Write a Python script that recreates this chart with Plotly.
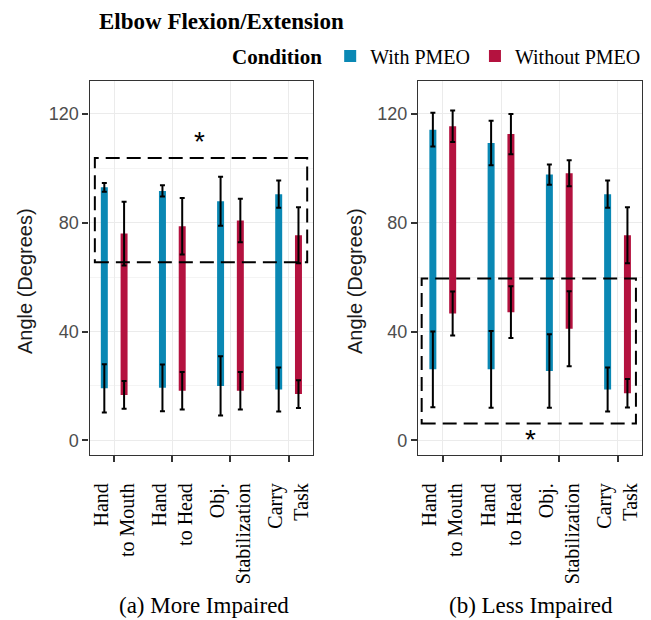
import plotly.graph_objects as go

# ---------------- data ----------------
categories = ["Hand<br>to Mouth", "Hand<br>to Head", "Obj.<br>Stabilization", "Carry<br>Task"]
cat_pos = [1, 2, 3, 4]

# (a) More Impaired
more_with_low = [19.1, 19.3, 20.0, 18.7]
more_with_low_sd = [8.9, 8.6, 10.9, 8.1]
more_with_high = [93.0, 91.7, 87.9, 90.5]
more_with_high_sd = [1.6, 2.1, 9.0, 5.0]
more_without_low = [16.7, 18.2, 18.2, 17.0]
more_without_low_sd = [5.1, 6.9, 6.9, 5.1]
more_without_high = [76.0, 78.7, 80.8, 75.4]
more_without_high_sd = [11.7, 10.4, 8.0, 10.3]

# (b) Less Impaired
less_with_low = [26.1, 26.1, 25.5, 18.7]
less_with_low_sd = [13.9, 14.1, 13.5, 8.1]
less_with_high = [114.2, 109.3, 97.7, 90.5]
less_with_high_sd = [6.2, 8.2, 3.7, 5.0]
less_without_low = [46.6, 47.1, 41.0, 17.3]
less_without_low_sd = [8.1, 9.5, 13.8, 5.2]
less_without_high = [115.5, 112.6, 98.2, 75.4]
less_without_high_sd = [5.8, 7.4, 4.8, 10.3]

y_ticks = [0, 40, 80, 120]
series_names = ["With PMEO", "Without PMEO"]
colors = ["#0a88b4", "#b4123f"]

# ---------------- style ----------------
SERIF = "Liberation Serif, Times New Roman, serif"
SANS = "Liberation Sans, Arial, sans-serif"
DODGE = 0.17
BAR_W = 0.12

# the page body has an 8px margin: size the figure so that it fills the window
OFF = 8
W, H = 651 - OFF, 620 - OFF


def fx(px):
    return (px - OFF) / W


def fy(py):
    return 1 - (py - OFF) / H


panels = [
    ("x", "y", [(more_with_low, more_with_low_sd, more_with_high, more_with_high_sd),
                (more_without_low, more_without_low_sd, more_without_high, more_without_high_sd)]),
    ("x2", "y2", [(less_with_low, less_with_low_sd, less_with_high, less_with_high_sd),
                  (less_without_low, less_without_low_sd, less_without_high, less_without_high_sd)]),
]

fig = go.Figure()
for p, (xa, ya, groups) in enumerate(panels):
    for s, (lo, lo_sd, hi, hi_sd) in enumerate(groups):
        off = -DODGE if s == 0 else DODGE
        xs = [c + off for c in cat_pos]
        fig.add_trace(go.Bar(
            x=xs, y=[h - l for h, l in zip(hi, lo)], base=lo, width=BAR_W,
            marker=dict(color=colors[s], line=dict(width=0)),
            name=series_names[s], legendgroup=series_names[s], showlegend=(p == 0),
            xaxis=xa, yaxis=ya, hoverinfo="skip"))
        for vals, sds in ((lo, lo_sd), (hi, hi_sd)):
            fig.add_trace(go.Scatter(
                x=xs, y=vals, mode="markers",
                marker=dict(size=1, color="rgba(0,0,0,0)"),
                error_y=dict(type="data", array=sds, visible=True, color="black",
                             thickness=2, width=2.5),
                showlegend=False, xaxis=xa, yaxis=ya, hoverinfo="skip"))

xdom1 = [fx(89.5), fx(313)]
xdom2 = [fx(418), fx(642)]
ydom = [fy(455), fy(81)]

xcommon = dict(range=[0.575, 4.42], tickvals=cat_pos, ticktext=categories, tickangle=-90,
               ticks="outside", ticklen=6, tickwidth=1.5, tickcolor="#333333",
               showline=True, mirror=True, linecolor="#333333", linewidth=1.3,
               showgrid=True, gridcolor="#ebebeb", gridwidth=1.3, zeroline=False,
               tickfont=dict(family=SERIF, size=20, color="black"),
               ticklabelstandoff=13, automargin=False, fixedrange=True)
ycommon = dict(range=[-5.4, 132.1], tickvals=y_ticks,
               ticks="outside", ticklen=6, tickwidth=1.5, tickcolor="#333333",
               showline=True, mirror=True, linecolor="#333333", linewidth=1.3,
               showgrid=True, gridcolor="#ebebeb", gridwidth=1.3, zeroline=False,
               minor=dict(tick0=20, dtick=40, showgrid=True, gridcolor="#f4f4f4",
                          gridwidth=0.8, ticks=""),
               tickfont=dict(family=SANS, size=18, color="#4d4d4d"),
               automargin=False, fixedrange=True)

fig.update_layout(
    width=W, height=H,
    margin=dict(l=0, r=0, t=0, b=0),
    paper_bgcolor="white", plot_bgcolor="white",
    barmode="overlay",
    xaxis=dict(domain=xdom1, anchor="y", **xcommon),
    yaxis=dict(domain=ydom, anchor="x", **ycommon),
    xaxis2=dict(domain=xdom2, anchor="y2", **xcommon),
    yaxis2=dict(domain=ydom, anchor="x2", **ycommon),
    showlegend=True,
    legend=dict(orientation="h", x=fx(230), xanchor="left", y=fy(56), yanchor="middle",
                title=dict(text="<b>Condition</b>", font=dict(family=SERIF, size=21, color="black")),
                font=dict(family=SERIF, size=20, color="black"),
                itemwidth=30, traceorder="normal", bgcolor="rgba(0,0,0,0)"),
)

annotations = [
    dict(text="<b>Elbow Flexion/Extension</b>", x=fx(97), y=fy(21), xref="paper", yref="paper",
         xanchor="left", yanchor="middle", showarrow=False, font=dict(family=SERIF, size=23, color="black")),
    dict(text="Angle (Degrees)", x=fx(25), y=fy(281), xref="paper", yref="paper", textangle=-90,
         xanchor="center", yanchor="middle", showarrow=False, font=dict(family=SANS, size=20, color="#1a1a1a")),
    dict(text="Angle (Degrees)", x=fx(355), y=fy(281), xref="paper", yref="paper", textangle=-90,
         xanchor="center", yanchor="middle", showarrow=False, font=dict(family=SANS, size=20, color="#1a1a1a")),
    dict(text="(a) More Impaired", x=fx(204), y=fy(605), xref="paper", yref="paper",
         xanchor="center", yanchor="middle", showarrow=False, font=dict(family=SERIF, size=23, color="black")),
    dict(text="(b) Less Impaired", x=fx(531), y=fy(605), xref="paper", yref="paper",
         xanchor="center", yanchor="middle", showarrow=False, font=dict(family=SERIF, size=23, color="black")),
    dict(text="*", x=2.46, y=109.8, xref="x", yref="y", showarrow=False,
         font=dict(family=SANS, size=28, color="black")),
    dict(text="*", x=2.505, y=0.4, xref="x2", yref="y2", showarrow=False,
         font=dict(family=SANS, size=28, color="black")),
]
fig.update_layout(annotations=annotations)

dash = "14px,7px"
fig.add_shape(type="rect", xref="x", yref="y", x0=0.667, x1=4.32, y0=65.5, y1=103.8,
              line=dict(color="black", width=2, dash=dash), fillcolor="rgba(0,0,0,0)", layer="above")
fig.add_shape(type="rect", xref="x2", yref="y2", x0=0.638, x1=4.316, y0=6.2, y1=59.5,
              line=dict(color="black", width=2, dash=dash), fillcolor="rgba(0,0,0,0)", layer="above")

fig.write_html("out.html")
